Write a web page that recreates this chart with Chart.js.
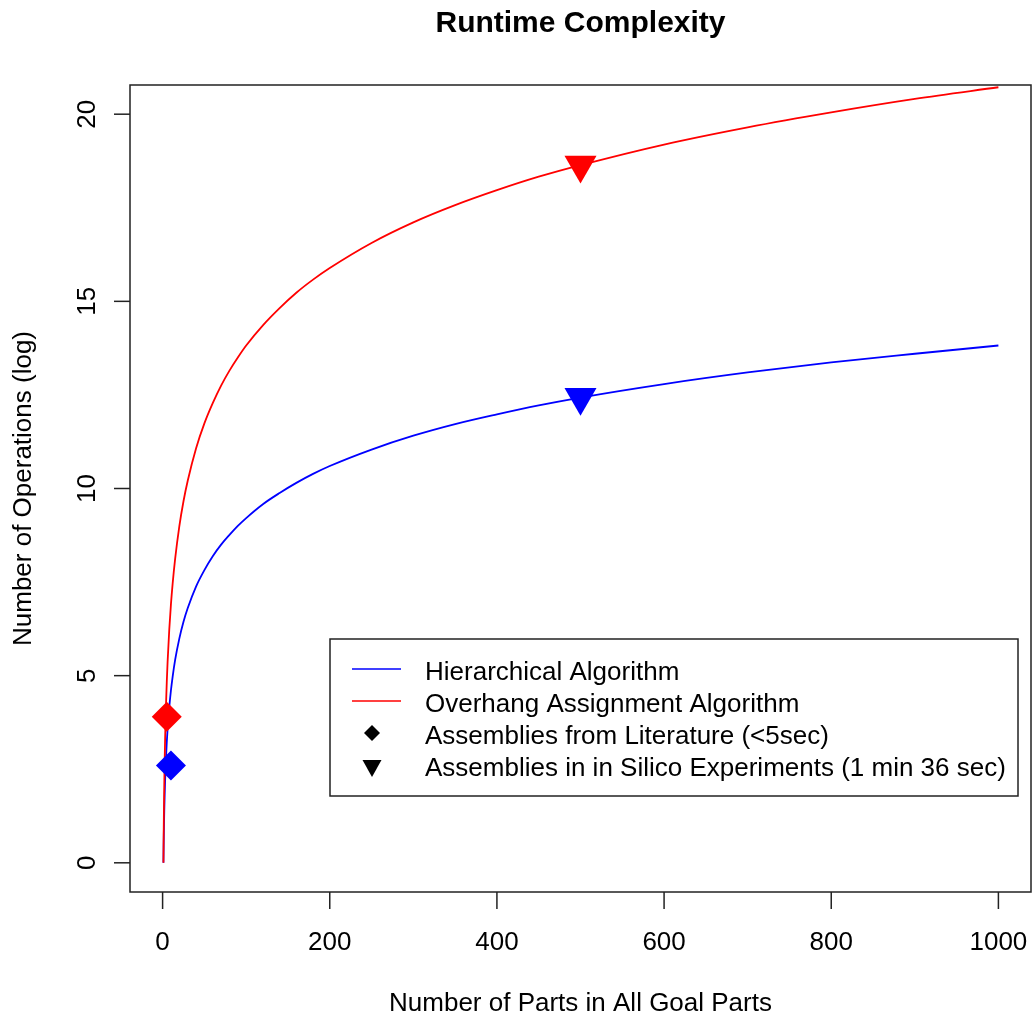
<!DOCTYPE html>
<html lang="en">
  <head>
    <meta charset="UTF-8" />
    <title>Runtime Complexity</title>
    <script src="https://cdn.jsdelivr.net/npm/chart.js"></script>
    <style>
      html, body { margin: 0; padding: 0; overflow: hidden; background: #fff; }
      #wrap { width: 1032px; height: 1017px; }
      #runtimeChart { width: 1032px; height: 1017px; display: block; }
    </style>
  </head>
  <body>
    <div id="wrap"><canvas id="runtimeChart" width="1032" height="1017"></canvas></div>

    <script>
      // curve samples
      const parts = [1, 1.25, 1.5, 2, 2.5, 3, 4, 5, 6, 8, 10, 12, 15, 20, 25, 30, 40, 50, 60, 70, 80, 90, 100,
                     120, 140, 160, 180, 200, 250, 300, 350, 400, 450, 500, 600, 700, 800, 900, 1000];
      const hierarchicalOps = [0, 0.45, 0.81, 1.39, 1.83, 2.2, 2.77, 3.22, 3.58, 4.16, 4.61, 4.97, 5.42, 5.99, 6.44, 6.8, 7.38, 7.82, 8.19, 8.5, 8.76, 9.0, 9.21,
                               9.58, 9.88, 10.15, 10.39, 10.6, 11.04, 11.41, 11.72, 11.98, 12.22, 12.43, 12.79, 13.1, 13.37, 13.6, 13.82];
      const overhangOps = [0, 0.67, 1.22, 2.08, 2.75, 3.3, 4.16, 4.83, 5.38, 6.24, 6.91, 7.45, 8.12, 8.99, 9.66, 10.2, 11.07, 11.74, 12.28, 12.75, 13.15, 13.5, 13.82,
                           14.36, 14.82, 15.23, 15.58, 15.89, 16.56, 17.11, 17.57, 17.97, 18.33, 18.64, 19.19, 19.65, 20.05, 20.41, 20.72];

      // marked assemblies: [x, y]
      const literatureHier = [10, 2.6];
      const literatureOver = [5, 3.9];
      const silicoHier = [500, 12.44];
      const silicoOver = [500, 18.64];

      const xTicks = [0, 200, 400, 600, 800, 1000];
      const yTicks = [0, 5, 10, 15, 20];

      const legendLabels = [
        'Hierarchical Algorithm',
        'Overhang Assignment Algorithm',
        'Assemblies from Literature (<5sec)',
        'Assemblies in in Silico Experiments (1 min 36 sec)'
      ];

      const FONT = '"Liberation Sans", Arial, Helvetica, sans-serif';

      function toPoints(xs, ys) {
        return xs.map((x, i) => ({ x: x, y: ys[i] }));
      }

      // draws R-style box, ticks, labels, titles and legend
      const rDecor = {
        id: 'rDecor',
        afterDraw(chart) {
          const ctx = chart.ctx;
          const area = chart.chartArea;
          const xs = chart.scales.x;
          const ys = chart.scales.y;
          ctx.save();
          ctx.strokeStyle = '#222';
          ctx.lineWidth = 1.5;
          ctx.strokeRect(area.left, area.top, area.right - area.left, area.bottom - area.top);

          ctx.fillStyle = '#000';
          ctx.font = '26px ' + FONT;

          // x axis
          ctx.textAlign = 'center';
          ctx.textBaseline = 'alphabetic';
          xTicks.forEach(v => {
            const px = xs.getPixelForValue(v);
            ctx.beginPath();
            ctx.moveTo(px, area.bottom);
            ctx.lineTo(px, area.bottom + 17);
            ctx.stroke();
            ctx.fillText(String(v), px, 950);
          });

          // y axis, labels turned like R does
          yTicks.forEach(v => {
            const py = ys.getPixelForValue(v);
            ctx.beginPath();
            ctx.moveTo(area.left, py);
            ctx.lineTo(area.left - 16, py);
            ctx.stroke();
            ctx.save();
            ctx.translate(95, py);
            ctx.rotate(-Math.PI / 2);
            ctx.fillText(String(v), 0, 0);
            ctx.restore();
          });

          // axis titles
          const midX = (area.left + area.right) / 2;
          const midY = (area.top + area.bottom) / 2;
          ctx.fillText('Number of Parts in All Goal Parts', midX, 1011);
          ctx.save();
          ctx.translate(31, midY);
          ctx.rotate(-Math.PI / 2);
          ctx.fillText('Number of Operations (log)', 0, 0);
          ctx.restore();

          // main title
          ctx.font = 'bold 30px ' + FONT;
          ctx.fillText('Runtime Complexity', midX, 32);

          // legend
          const lx = 330, ly = 639, lw = 688, lh = 157;
          ctx.lineWidth = 1.5;
          ctx.strokeStyle = '#222';
          ctx.strokeRect(lx, ly, lw, lh);
          const rows = [669, 701, 733, 765];
          ctx.font = '26px ' + FONT;
          ctx.textAlign = 'left';
          rows.forEach((ry, i) => {
            ctx.fillStyle = '#000';
            ctx.fillText(legendLabels[i], 425, ry + 11);
          });
          ctx.lineWidth = 1.5;
          ctx.strokeStyle = '#0000ff';
          ctx.beginPath(); ctx.moveTo(352, rows[0]); ctx.lineTo(401, rows[0]); ctx.stroke();
          ctx.strokeStyle = '#ff0000';
          ctx.beginPath(); ctx.moveTo(352, rows[1]); ctx.lineTo(401, rows[1]); ctx.stroke();
          ctx.fillStyle = '#000';
          const r = 8;
          ctx.beginPath();
          ctx.moveTo(372 - r, rows[2]); ctx.lineTo(372, rows[2] - r);
          ctx.lineTo(372 + r, rows[2]); ctx.lineTo(372, rows[2] + r);
          ctx.closePath(); ctx.fill();
          ctx.beginPath();
          ctx.moveTo(362.5, 760); ctx.lineTo(381.5, 760); ctx.lineTo(372, 777);
          ctx.closePath(); ctx.fill();
          ctx.restore();
        }
      };

      const chartData = {
        datasets: [
          {
            type: 'line',
            label: legendLabels[0],
            data: toPoints(parts, hierarchicalOps),
            borderColor: '#0000ff',
            borderWidth: 1.8,
            pointRadius: 0,
            cubicInterpolationMode: 'monotone',
            fill: false,
            order: 3
          },
          {
            type: 'line',
            label: legendLabels[1],
            data: toPoints(parts, overhangOps),
            borderColor: '#ff0000',
            borderWidth: 1.8,
            pointRadius: 0,
            cubicInterpolationMode: 'monotone',
            fill: false,
            order: 2
          },
          {
            type: 'scatter',
            data: [{ x: literatureOver[0], y: literatureOver[1] }],
            pointStyle: 'rectRot',
            pointRadius: 15,
            backgroundColor: '#ff0000',
            borderWidth: 0,
            order: 1
          },
          {
            type: 'scatter',
            data: [{ x: literatureHier[0], y: literatureHier[1] }],
            pointStyle: 'rectRot',
            pointRadius: 15,
            backgroundColor: '#0000ff',
            borderWidth: 0,
            order: 1
          },
          {
            type: 'scatter',
            data: [{ x: silicoOver[0], y: silicoOver[1] }],
            pointStyle: 'triangle',
            rotation: 180,
            pointRadius: 18.5,
            backgroundColor: '#ff0000',
            borderWidth: 0,
            order: 1
          },
          {
            type: 'scatter',
            data: [{ x: silicoHier[0], y: silicoHier[1] }],
            pointStyle: 'triangle',
            rotation: 180,
            pointRadius: 18.5,
            backgroundColor: '#0000ff',
            borderWidth: 0,
            order: 1
          }
        ]
      };

      new Chart(document.getElementById('runtimeChart'), {
        type: 'scatter',
        data: chartData,
        options: {
          responsive: false,
          maintainAspectRatio: false,
          animation: false,
          events: [],
          layout: {
            autoPadding: false,
            padding: { left: 130, top: 85, right: 1, bottom: 125 }
          },
          plugins: {
            legend: { display: false },
            title: { display: false },
            tooltip: { enabled: false }
          },
          scales: {
            x: { type: 'linear', min: -39, max: 1039, display: false },
            y: { type: 'linear', min: -0.78, max: 20.78, display: false }
          }
        },
        plugins: [rDecor]
      });
    </script>
  </body>
</html>
